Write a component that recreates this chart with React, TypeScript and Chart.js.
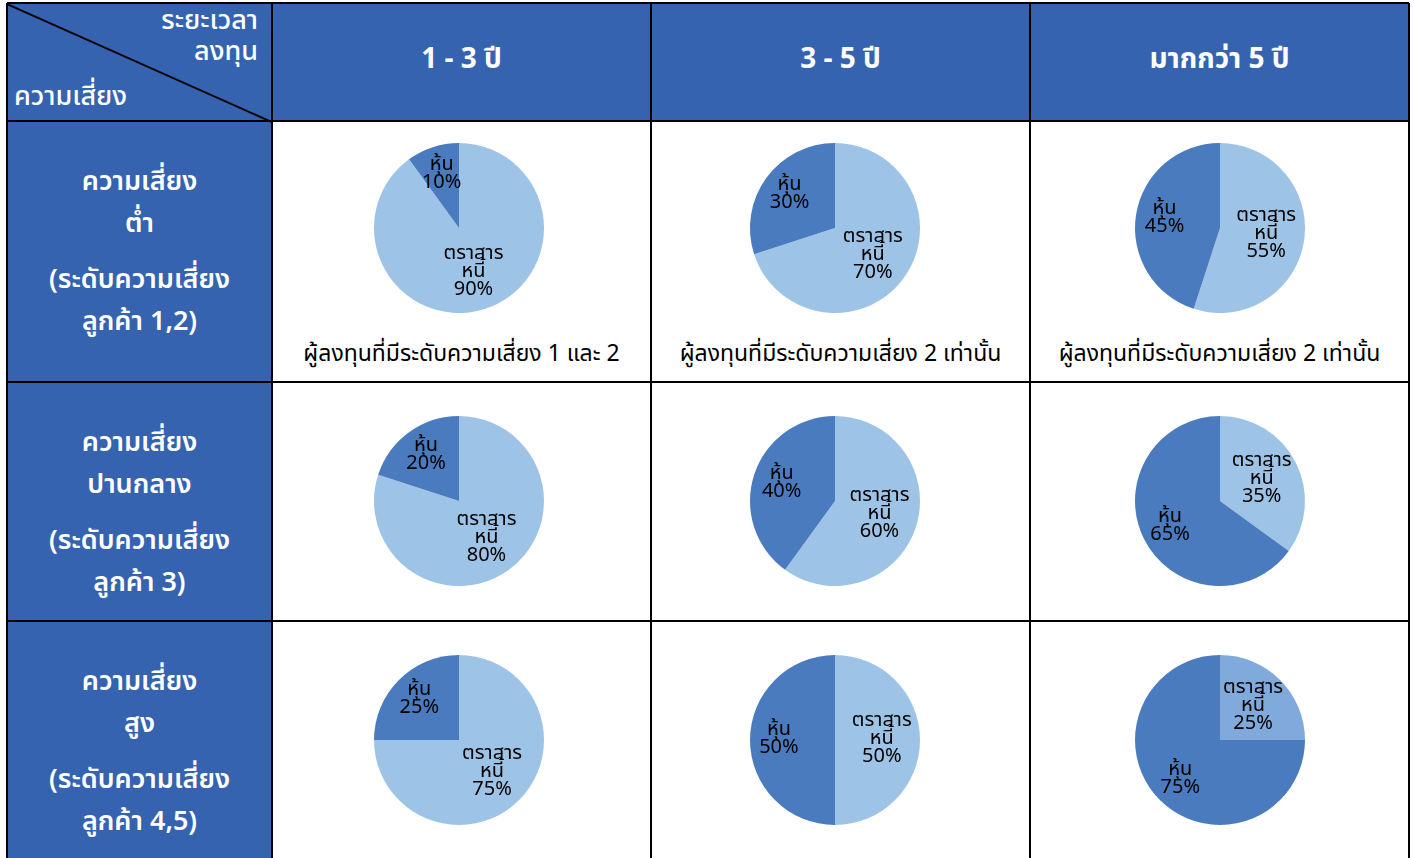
import React, { useEffect, useRef } from "react";
import { Chart, registerables } from "chart.js";

Chart.register(...registerables);

// ---------- data ----------
const horizons = ["1 - 3 ปี", "3 - 5 ปี", "มากกว่า 5 ปี"];
const riskRowLabels = [
  ["ความเสี่ยง", "ต่ำ", "(ระดับความเสี่ยง", "ลูกค้า 1,2)"],
  ["ความเสี่ยง", "ปานกลาง", "(ระดับความเสี่ยง", "ลูกค้า 3)"],
  ["ความเสี่ยง", "สูง", "(ระดับความเสี่ยง", "ลูกค้า 4,5)"],
];
const cornerTop = ["ระยะเวลา", "ลงทุน"];
const cornerBottom = "ความเสี่ยง";
const sliceNames = [["ตราสาร", "หนี้"], ["หุ้น"]];
const bondShares = [
  [90, 70, 55],
  [80, 60, 35],
  [75, 50, 25],
];
const stockShares = [
  [10, 30, 45],
  [20, 40, 65],
  [25, 50, 75],
];
const captions = [
  "ผู้ลงทุนที่มีระดับความเสี่ยง 1 และ 2",
  "ผู้ลงทุนที่มีระดับความเสี่ยง 2 เท่านั้น",
  "ผู้ลงทุนที่มีระดับความเสี่ยง 2 เท่านั้น",
];

// ---------- styles / layout ----------
const HEADER_BLUE = "#3663b0";
const BOND_COLOR = "#9dc3e6";
const BOND_COLOR_DARKER = "#80aadb";
const STOCK_COLOR = "#4a7bbf";
const COL_X = [7, 272, 651, 1030, 1409];
const ROW_Y = [3, 121, 382, 621, 900];
const PIE_CX = [459, 835, 1220];
const PIE_CY = [228, 501, 740];
const PIE_BOX = 200;
const PIE_PAD = 15;
const LABEL_RADIUS = [0.55, 0.66];
const THAI_FONT = "Tahoma, 'Noto Sans Thai', 'Leelawadee UI', 'Noto Sans', sans-serif";

const labelPlugin = {
  id: "sliceLabels",
  afterDatasetsDraw(chart: any) {
    const ctx = chart.ctx;
    const meta = chart.getDatasetMeta(0);
    const data = chart.data.datasets[0].data;
    ctx.save();
    ctx.fillStyle = "#000";
    ctx.font = `20px ${THAI_FONT}`;
    ctx.textAlign = "center";
    ctx.textBaseline = "middle";
    meta.data.forEach((arc: any, i: number) => {
      const p = arc.getProps(["x", "y", "startAngle", "endAngle", "outerRadius"], true);
      const mid = (p.startAngle + p.endAngle) / 2;
      const r = p.outerRadius * LABEL_RADIUS[i];
      const x = p.x + Math.cos(mid) * r;
      const y = p.y + Math.sin(mid) * r;
      const lines = [...sliceNames[i], `${data[i]}%`];
      const lh = 18;
      const top = y - ((lines.length - 1) * lh) / 2;
      lines.forEach((t, k) => ctx.fillText(t, x, top + k * lh));
    });
    ctx.restore();
  },
};

function Pie({ bond, stock, bondColor }: { bond: number; stock: number; bondColor: string }) {
  const ref = useRef<HTMLCanvasElement>(null);
  useEffect(() => {
    if (!ref.current) return;
    const chart = new Chart(ref.current, {
      type: "pie",
      data: {
        labels: ["ตราสารหนี้", "หุ้น"],
        datasets: [
          {
            data: [bond, stock],
            backgroundColor: [bondColor, STOCK_COLOR],
            borderWidth: 0,
          },
        ],
      },
      options: {
        responsive: false,
        animation: false,
        layout: { padding: PIE_PAD },
        plugins: { legend: { display: false }, tooltip: { enabled: false } },
      },
      plugins: [labelPlugin],
    });
    return () => chart.destroy();
  }, [bond, stock, bondColor]);
  return <canvas ref={ref} width={PIE_BOX} height={PIE_BOX} style={{ width: PIE_BOX, height: PIE_BOX }} />;
}

const abs = (x: number, y: number, w: number, h: number, extra: React.CSSProperties = {}): React.CSSProperties => ({
  position: "absolute",
  left: x,
  top: y,
  width: w,
  height: h,
  ...extra,
});

export default function App() {
  const W = 1414;
  const H = 858;
  const whiteBold: React.CSSProperties = {
    color: "#fff",
    fontFamily: THAI_FONT,
    fontWeight: "bold",
    fontSize: 26,
  };
  const lines: React.ReactNode[] = [];
  COL_X.forEach((x, i) =>
    lines.push(<div key={"v" + i} style={abs(x - 1, ROW_Y[0], 2, H, { background: "#000" })} />)
  );
  ROW_Y.forEach((y, i) =>
    lines.push(<div key={"h" + i} style={abs(COL_X[0], y - 1, COL_X[4] - COL_X[0], 2, { background: "#000" })} />)
  );
  const diagLen = Math.hypot(COL_X[1] - COL_X[0], ROW_Y[1] - ROW_Y[0]);
  const diagAng = Math.atan2(ROW_Y[1] - ROW_Y[0], COL_X[1] - COL_X[0]);

  return (
    <div style={{ position: "absolute", left: 0, top: 0, width: W, height: H, overflow: "hidden", background: "#fff" }}>
      <div style={abs(COL_X[0], ROW_Y[0], COL_X[4] - COL_X[0], ROW_Y[1] - ROW_Y[0], { background: HEADER_BLUE })} />
      <div style={abs(COL_X[0], ROW_Y[1], COL_X[1] - COL_X[0], H, { background: HEADER_BLUE })} />
      <div
        style={{
          position: "absolute",
          left: COL_X[0],
          top: ROW_Y[0],
          width: diagLen,
          height: 2,
          background: "#000",
          transformOrigin: "0 0",
          transform: `rotate(${diagAng}rad)`,
        }}
      />
      <div style={abs(COL_X[0], 5, COL_X[1] - COL_X[0] - 14, 70, { ...whiteBold, fontWeight: 500, textAlign: "right", lineHeight: "31px", fontSize: 27 })}>
        {cornerTop.map((t) => (
          <div key={t}>{t}</div>
        ))}
      </div>
      <div style={abs(COL_X[0] + 7, 81, 220, 32, { ...whiteBold, fontWeight: 500, fontSize: 27, lineHeight: "32px" })}>
        {cornerBottom}
      </div>
      {horizons.map((h, i) => (
        <div
          key={h}
          style={abs(COL_X[i + 1], ROW_Y[0], COL_X[i + 2] - COL_X[i + 1], ROW_Y[1] - ROW_Y[0] - 6, {
            ...whiteBold,
            fontSize: 28,
            display: "flex",
            alignItems: "center",
            justifyContent: "center",
          })}
        >
          {h}
        </div>
      ))}
      {riskRowLabels.map((rl, r) => (
        <div
          key={r}
          style={abs(COL_X[0], ROW_Y[r + 1] + 40, COL_X[1] - COL_X[0], 200, {
            ...whiteBold,
            fontSize: 27,
            fontWeight: 600,
            textAlign: "center",
            lineHeight: "42px",
          })}
        >
          <div>{rl[0]}</div>
          <div>{rl[1]}</div>
          <div style={{ marginTop: 14 }}>{rl[2]}</div>
          <div>{rl[3]}</div>
        </div>
      ))}
      {bondShares.map((row, r) =>
        row.map((b, c) => (
          <div key={`p${r}${c}`} style={abs(PIE_CX[c] - PIE_BOX / 2, PIE_CY[r] - PIE_BOX / 2, PIE_BOX, PIE_BOX)}>
            <Pie bond={b} stock={stockShares[r][c]} bondColor={r === 2 && c === 2 ? BOND_COLOR_DARKER : BOND_COLOR} />
          </div>
        ))
      )}
      {captions.map((t, c) => (
        <div
          key={"cap" + c}
          style={abs(COL_X[c + 1], 337, COL_X[c + 2] - COL_X[c + 1], 34, {
            fontFamily: THAI_FONT,
            fontSize: 23,
            color: "#000",
            textAlign: "center",
            lineHeight: "34px",
            whiteSpace: "nowrap",
          })}
        >
          {t}
        </div>
      ))}
      {lines}
    </div>
  );
}
